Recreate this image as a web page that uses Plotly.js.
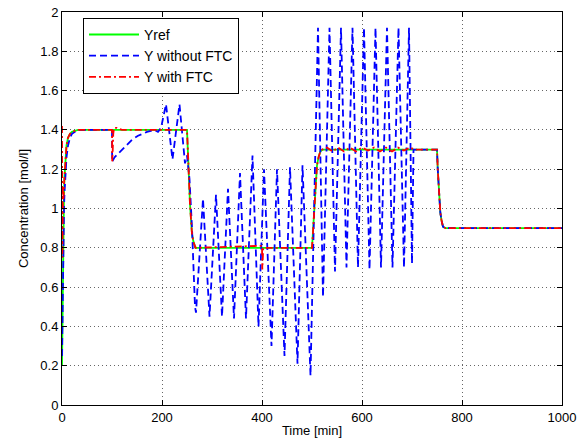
<!DOCTYPE html>
<html>
<head>
<meta charset="utf-8">
<script src="https://cdn.plot.ly/plotly-3.0.1.min.js"></script>
<style>html,body{margin:0;padding:0;background:#fff;}#chart{width:587px;height:448px;}</style>
</head>
<body>
<div id="chart"></div>
<script>
// Yref (reference trajectory)
const refT = [0, 1, 2, 3, 4, 5, 7, 9, 12, 16, 20, 26, 32, 250, 252, 254, 256, 258, 260, 263, 267, 500, 501.5, 503, 505, 506.6, 508, 510, 513, 516.6, 520.6, 750, 751.5, 753, 755, 756.6, 759, 762, 767, 1000];
const refY = [0.2, 0.55, 0.8, 0.97, 1.08, 1.16, 1.26, 1.32, 1.36, 1.38, 1.39, 1.396, 1.4, 1.4, 1.3, 1.15, 1.02, 0.93, 0.87, 0.83, 0.8, 0.8, 0.86, 0.93, 1.02, 1.1, 1.16, 1.22, 1.26, 1.29, 1.3, 1.3, 1.2, 1.11, 1.03, 0.98, 0.94, 0.907, 0.9, 0.9];

// Y without FTC
const noT = [0, 1, 2, 3, 4, 5, 7, 9, 12, 16, 20, 26, 32, 100,
  100.3, 105, 115, 127, 140, 152, 170, 185, 192, 198, 208, 221, 235, 246, 250, 255, 260, 266,
  268, 282, 295, 308, 320, 332, 344, 356, 368, 381, 393, 404, 419, 430, 445, 456, 471, 481, 497,
  512, 522, 535, 546, 558, 569, 581, 592, 604, 615, 627, 638, 650, 661, 673, 684, 694, 700, 703,
  750, 751.5, 753, 755, 756.6, 759, 762, 767, 1000];
const noY = [0.25, 0.5, 0.72, 0.88, 1.0, 1.08, 1.19, 1.26, 1.32, 1.36, 1.38, 1.39, 1.4, 1.4,
  1.237, 1.26, 1.285, 1.32, 1.35, 1.37, 1.39, 1.4, 1.39, 1.41, 1.53, 1.25, 1.53, 1.23, 1.27, 1.15, 0.9, 0.5,
  0.47, 1.05, 0.45, 1.07, 0.45, 1.1, 0.44, 1.18, 0.44, 1.27, 0.4, 1.2, 0.3, 1.2, 0.25, 1.21, 0.21, 1.22, 0.15,
  1.92, 0.55, 1.92, 0.68, 1.92, 0.7, 1.92, 0.7, 1.92, 0.69, 1.92, 0.7, 1.92, 0.7, 1.92, 0.7, 1.92, 0.72, 1.3,
  1.3, 1.2, 1.11, 1.03, 0.98, 0.94, 0.907, 0.9, 0.9];

// Y with FTC
const ftcT = [0, 0.5, 1, 1.5, 2, 3, 4, 5, 7, 9, 12, 16, 20, 26, 32, 100,
  100.5, 101.5, 102.5, 104, 110, 116, 120, 250, 252, 254, 256, 258, 260, 263, 267,
  398, 400, 400.6, 401.5, 402.5, 405, 500, 501.5, 503, 505, 506.6, 508, 510, 513, 516.6, 520.6,
  530, 541, 552, 564, 576, 588, 600, 612, 624, 636, 648, 660, 672, 684, 696, 705,
  750, 751.5, 753, 755, 756.6, 759, 762, 767, 1000];
const ftcY = [1.42, 0.75, 1.2, 0.95, 1.1, 1.05, 1.12, 1.17, 1.26, 1.32, 1.36, 1.38, 1.39, 1.396, 1.4, 1.4,
  1.24, 1.3, 1.38, 1.41, 1.41, 1.405, 1.4, 1.4, 1.3, 1.15, 1.02, 0.93, 0.87, 0.83, 0.8,
  0.81, 0.81, 0.69, 0.75, 0.8, 0.8, 0.8, 0.86, 0.93, 1.02, 1.1, 1.16, 1.22, 1.26, 1.29, 1.3,
  1.31, 1.29, 1.31, 1.29, 1.31, 1.29, 1.31, 1.295, 1.31, 1.29, 1.31, 1.29, 1.31, 1.295, 1.31, 1.3,
  1.3, 1.2, 1.11, 1.03, 0.98, 0.94, 0.907, 0.9, 0.9];

const seriesNames = ['Yref', 'Y without FTC', 'Y with FTC'];
const xTicks = [0, 200, 400, 600, 800, 1000];
const yTicks = [0, 0.2, 0.4, 0.6, 0.8, 1, 1.2, 1.4, 1.6, 1.8, 2];

const font = 'Liberation Sans, Arial, Helvetica, sans-serif';

const traces = [
  {x: refT, y: refY, name: seriesNames[0], mode: 'lines', line: {color: '#00ff00', width: 1.8}},
  {x: noT, y: noY, name: seriesNames[1], mode: 'lines', line: {color: '#0000ff', width: 1.8, dash: '7px,4px'}},
  {x: ftcT, y: ftcY, name: seriesNames[2], mode: 'lines', line: {color: '#ff0000', width: 1.8, dash: '7px,3px,2px,3px'}}
];

const axisCommon = {
  showline: true, linecolor: '#000', linewidth: 1, mirror: 'ticks',
  ticks: 'inside', ticklen: 5, tickcolor: '#000', tickwidth: 1,
  showgrid: true, gridcolor: '#666', gridwidth: 1, griddash: '1px,3px',
  zeroline: false, tickfont: {family: font, size: 13, color: '#000'}
};

const layout = {
  width: 587, height: 448,
  margin: {l: 62, r: 25, t: 12, b: 43},
  paper_bgcolor: '#fff', plot_bgcolor: '#fff',
  font: {family: font, color: '#000', size: 13},
  showlegend: true,
  legend: {x: 0.042, y: 0.985, xanchor: 'left', yanchor: 'top', bgcolor: '#fff',
    bordercolor: '#000', borderwidth: 1, font: {family: font, size: 14, color: '#000'}, itemwidth: 50},
  xaxis: Object.assign({}, axisCommon, {range: [0, 1000], tickvals: xTicks, ticktext: xTicks.map(String),
    title: {text: 'Time [min]', font: {family: font, size: 13}, standoff: 2}}),
  yaxis: Object.assign({}, axisCommon, {range: [0, 2], tickvals: yTicks, ticktext: yTicks.map(String),
    title: {text: 'Concentration [mol/l]', font: {family: font, size: 13}, standoff: 8}})
};

Plotly.newPlot('chart', traces, layout, {displayModeBar: false, staticPlot: true});
</script>
</body>
</html>
